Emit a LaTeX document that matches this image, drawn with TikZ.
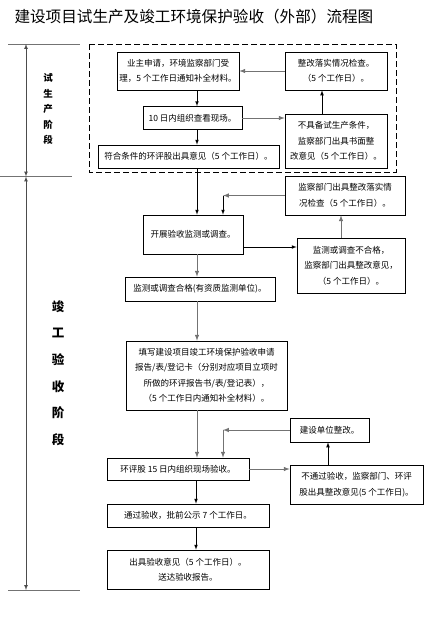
\documentclass[tikz,border=0pt]{standalone}
\usepackage{fontspec}
\setmainfont{Noto Sans CJK SC}
\usetikzlibrary{arrows}
\begin{document}
\begin{tikzpicture}[x=1pt,y=-1pt,
	boite/.style={draw,line width=0.7pt,align=center,inner sep=1pt,font=\fontsize{8.5}{15.5}\selectfont}]
	\useasboundingbox (0,0) rectangle (439,622);

	\node[anchor=west,font=\fontsize{15.6}{18}\selectfont] (T) at (11,17) {建设项目试生产及竣工环境保护验收（外部）流程图};

	\node[font=\fontsize{9.5}{15.5}\selectfont\bfseries,align=center] (L1) at (48,109) {试\\生\\产\\阶\\段};
	\node[font=\fontsize{12.5}{26.7}\selectfont\bfseries,align=center] (L2) at (58,373) {竣\\工\\验\\收\\阶\\段};

	\node[boite,minimum width=122pt,minimum height=38pt] (A) at (178,71) {业主申请，环境监察部门受\\理，5 个工作日通知补全材料。};
	\node[boite,minimum width=102pt,minimum height=38pt] (B) at (336,71) {整改落实情况检查。\\（5 个工作日）。};
	\node[boite,minimum width=99pt,minimum height=23pt] (C) at (192.5,118) {10 日内组织查看现场。};
	\node[boite,minimum width=102pt,minimum height=54pt] (D) at (336,141) {不具备试生产条件，\\监察部门出具书面整\\改意见（5 个工作日）。};
	\node[boite,minimum width=181pt,minimum height=23pt] (E) at (188.5,156.5) {符合条件的环评股出具意见（5 个工作日）。};

	\node[boite,minimum width=120pt,minimum height=39pt] (F) at (345,195.5) {监察部门出具整改落实情\\况检查（5 个工作日）。};
	\node[boite,minimum width=100pt,minimum height=39pt] (G) at (193,234.5) {开展验收监测或调查。};
	\node[boite,minimum width=108pt,minimum height=55pt] (H) at (351,265.5) {监测或调查不合格，\\监察部门出具整改意见，\\（5 个工作日）。};
	\node[boite,minimum width=150pt,minimum height=24pt] (I) at (200,289) {监测或调查合格(有资质监测单位)。};
	\node[boite,minimum width=161pt,minimum height=69pt] (J) at (206.5,375.5) {填写建设项目竣工环境保护验收申请\\报告/表/登记卡（分别对应项目立项时\\所做的环评报告书/表/登记表），\\（5 个工作日内通知补全材料）。};
	\node[boite,minimum width=79pt,minimum height=24pt] (K) at (329.5,430) {建设单位整改。};
	\node[boite,minimum width=142pt,minimum height=22pt] (M) at (178,469) {环评股 15 日内组织现场验收。};
	\node[boite,minimum width=133pt,minimum height=39pt] (N) at (356.5,484.5) {不通过验收，监察部门、环评\\股出具整改意见(5 个工作日)。};
	\node[boite,minimum width=162pt,minimum height=23pt] (P) at (188,515.5) {通过验收，批前公示 7 个工作日。};
	\node[boite,minimum width=162pt,minimum height=39pt] (Q) at (188,569.5) {出具验收意见（5 个工作日）。\\送达验收报告。};

	\coordinate (tronc) at (197,0);
	\coordinate (coin1) at (223,195.5);
	\coordinate (coin2) at (223,430);
	\coordinate (h0) at (26,44);
	\coordinate (h1) at (26,176.5);
	\coordinate (h2) at (26,590);

	\tikzstyle{fleche}=[->,>=latex,line width=0.7pt]
	\tikzstyle{grise}=[->,>=latex,line width=1pt,black!55]
	\tikzstyle{trait}=[line width=1pt,black!55]

	\draw[dash pattern=on 6pt off 3pt,line width=0.7pt] (89,44) rectangle (396,172);

	\draw[trait] (8,44) -- (80,44);
	\draw[trait] (0,176.5) -- (72,176.5);
	\draw[trait] (8,590) -- (80,590);
	\draw[<->,>=latex,black!70,line width=0.7pt] (h0) -- (h1);
	\draw[<->,>=latex,black!70,line width=0.7pt] (h1) -- (h2);

	\draw[fleche] (A.south -| tronc) -- (C.north -| tronc);
	\draw[fleche] (C.south -| tronc) -- (E.north -| tronc);
	\draw[grise] (C.east) -- (C.east -| D.west);
	\draw[fleche] ([xshift=-14pt]D.north) -- ([xshift=-14pt]B.south);
	\draw[grise] (B.west) -- (B.west -| A.east);

	\draw[fleche] (E.south -| tronc) -- (G.north -| tronc);
	\draw[grise] (F.west) -- (coin1);
	\draw[fleche] (coin1) -- (coin1 |- G.north);
	\draw[fleche] ([yshift=-12.5pt]G.east) -- ([yshift=-12.5pt]G.east -| H.west);
	\draw[grise] ([xshift=-10pt]H.north) -- ([xshift=-10pt]H.north |- F.south);
	\draw[grise] (G.south -| tronc) -- (I.north -| tronc);
	\draw[grise] (I.south -| tronc) -- (J.north -| tronc);

	\draw[grise] (J.south -| tronc) -- (M.north -| tronc);
	\draw[grise] (K.west) -- (coin2);
	\draw[grise] (coin2) -- (coin2 |- M.north);
	\draw[grise] (M.east) -- (M.east -| N.west);
	\draw[fleche] ([xshift=-28.5pt]N.north) -- ([xshift=-28.5pt]N.north |- K.south);
	\draw[fleche] ([xshift=-1pt]M.south -| tronc) -- ([xshift=-1pt]P.north -| tronc);
	\draw[fleche] ([xshift=-1pt]P.south -| tronc) -- ([xshift=-1pt]Q.north -| tronc);
\end{tikzpicture}
\end{document}
